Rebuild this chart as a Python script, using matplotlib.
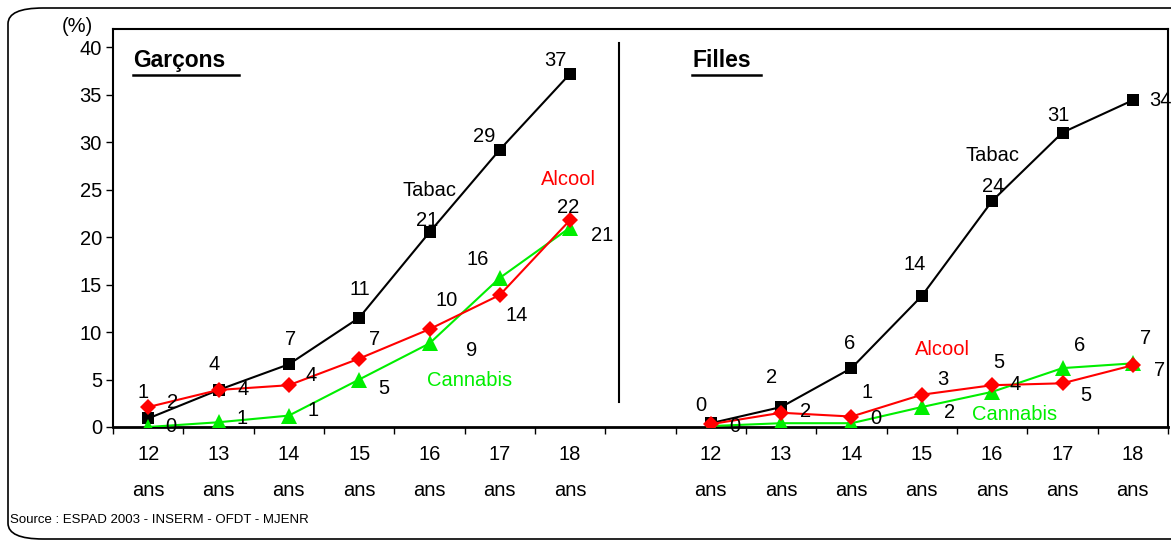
import matplotlib
matplotlib.use("Agg")
import matplotlib.pyplot as plt
from matplotlib.patches import FancyBboxPatch
import numpy as np

plt.rcParams['font.family'] = ['Liberation Sans', 'DejaVu Sans']

ages = ["12", "13", "14", "15", "16", "17", "18"]

# Garçons
g_tabac = [0.9, 3.9, 6.6, 11.5, 20.5, 29.2, 37.2]
g_alcool = [2.1, 3.9, 4.4, 7.2, 10.3, 13.9, 21.8]
g_cannabis = [0.0, 0.5, 1.2, 5.0, 8.8, 15.7, 21.0]
g_tabac_lab = ["1", "4", "7", "11", "21", "29", "37"]
g_alcool_lab = ["2", "4", "4", "7", "10", "14", "22"]
g_cannabis_lab = ["0", "1", "1", "5", "9", "16", "21"]

# Filles
f_tabac = [0.4, 2.1, 6.2, 13.8, 23.8, 31.0, 34.4]
f_alcool = [0.3, 1.5, 1.1, 3.4, 4.4, 4.6, 6.5]
f_cannabis = [0.1, 0.4, 0.4, 2.1, 3.7, 6.2, 6.7]
f_tabac_lab = ["0", "2", "6", "14", "24", "31", "34"]
f_alcool_lab = ["", "2", "1", "3", "5", "5", "7"]
f_cannabis_lab = ["0", "", "0", "2", "4", "6", "7"]

xg = np.arange(7)
xf = np.arange(8, 15)

fig = plt.figure(figsize=(11.71, 5.41), dpi=100)
ax = fig.add_axes([113 / 1171, 1 - 427 / 541, (1168 - 113) / 1171, (427 - 29) / 541])

# outer rounded frame
frame = FancyBboxPatch((8 / 1171, 2 / 541), 1.2, 1 - 10 / 541,
                       boxstyle="round,pad=0,rounding_size=0.03",
                       transform=fig.transFigure, fill=False, lw=1.2,
                       ec="black", mutation_aspect=541 / 1171 * 2.1,
                       zorder=0, clip_on=False)
fig.patches.append(frame)

ms = dict(markersize=9, markeredgewidth=0)
for xs, t, a, c in [(xg, g_tabac, g_alcool, g_cannabis), (xf, f_tabac, f_alcool, f_cannabis)]:
    ax.plot(xs, t, color="black", marker="s", lw=1.5, **ms, zorder=3)
    ax.plot(xs, c, color="#00ee00", marker="^", lw=1.5, markersize=11, markeredgewidth=0, zorder=4)
    ax.plot(xs, a, color="red", marker="D", lw=1.5, markersize=8, markeredgewidth=0, zorder=5)

fs = 14.5


def labels(xs, vals, labs, offs):
    for x, v, l, o in zip(xs, vals, labs, offs):
        if l:
            ax.annotate(l, (x, v), xytext=o, textcoords="offset pixels",
                        ha="center", va="center", fontsize=fs, zorder=6)


labels(xg, g_tabac, g_tabac_lab,
       [(-5, 26), (-4, 25), (2, 25), (1, 28), (-2, 12), (-16, 13), (-15, 13)])
labels(xg, g_alcool, g_alcool_lab,
       [(24, 5), (25, 0), (22, 10), (15, 19), (17, 29), (17, -21), (-2, 12)])
labels(xg, g_cannabis, g_cannabis_lab,
       [(23, 0), (24, 4), (24, 5), (25, -9), (42, -7), (-22, 18), (32, -8)])
labels(xf, f_tabac, f_tabac_lab,
       [(-10, 18), (-10, 30), (-2, 25), (-7, 31), (1, 14), (-4, 17), (28, 0)])
labels(xf, f_alcool, f_alcool_lab,
       [(24, -2), (24, 1), (16, 24), (21, 15), (7, 23), (23, -12), (13, 27)])
labels(xf, f_cannabis, f_cannabis_lab,
       [(24, 0), (24, 0), (24, 5), (28, -5), (23, 7), (17, 23), (27, -7)])

# series names
ax.annotate("Tabac", (xg[4], g_tabac[4]), xytext=(0, 42), textcoords="offset pixels",
            ha="center", va="center", fontsize=fs)
ax.annotate("Alcool", (xg[6], g_alcool[6]), xytext=(-2, 40), textcoords="offset pixels",
            ha="center", va="center", fontsize=fs, color="red")
ax.annotate("Cannabis", (xg[4], g_cannabis[4]), xytext=(40, -37), textcoords="offset pixels",
            ha="center", va="center", fontsize=fs, color="#00ee00")
ax.annotate("Tabac", (xf[4], f_tabac[4]), xytext=(0, 45), textcoords="offset pixels",
            ha="center", va="center", fontsize=fs)
ax.annotate("Alcool", (xf[3], f_alcool[3]), xytext=(21, 45), textcoords="offset pixels",
            ha="center", va="center", fontsize=fs, color="red")
ax.annotate("Cannabis", (xf[4], f_cannabis[4]), xytext=(22, -23), textcoords="offset pixels",
            ha="center", va="center", fontsize=fs, color="#00ee00")

ax.text(0.019, 0.92, "Garçons", transform=ax.transAxes, fontsize=16.5, fontweight="bold",
        ha="left", va="center")
ax.text(0.549, 0.92, "Filles", transform=ax.transAxes, fontsize=16.5, fontweight="bold",
        ha="left", va="center")
# underlines
ax.plot([0.019, 0.119], [0.885, 0.885], transform=ax.transAxes, color="black", lw=1.8, clip_on=False)
ax.plot([0.549, 0.614], [0.885, 0.885], transform=ax.transAxes, color="black", lw=1.8, clip_on=False)

# separator
ax.axvline(6.69, ymin=0.063, ymax=0.965, color="black", lw=1.5)

ax.set_xlim(-0.5, 14.5)
ax.set_ylim(0, 41.9)
ax.set_yticks(np.arange(0, 41, 5))
ax.set_xticks(np.arange(-0.5, 15, 1))
ax.set_xticklabels([])
ax.set_xticks(np.concatenate([xg, xf]), minor=True)
ax.set_xticklabels([a + "\nans" for a in ages] * 2, minor=True, fontsize=fs, linespacing=2.15)
ax.tick_params(axis="x", which="minor", length=0, pad=13)
ax.tick_params(axis="x", which="major", length=5, width=1, direction="out")
ax.tick_params(axis="y", length=5, width=1, direction="out", labelsize=fs, pad=3)
for s in ax.spines.values():
    s.set_linewidth(1.5)
ax.spines["bottom"].set_linewidth(2)

fig.text(77 / 1171, 1 - 27 / 541, "(%)", fontsize=fs, ha="center", va="center")
fig.text(10 / 1171, 1 - 520 / 541, "Source : ESPAD 2003 - INSERM - OFDT - MJENR", fontsize=9.5,
         ha="left", va="center")

fig.savefig("out.png", dpi=100)
